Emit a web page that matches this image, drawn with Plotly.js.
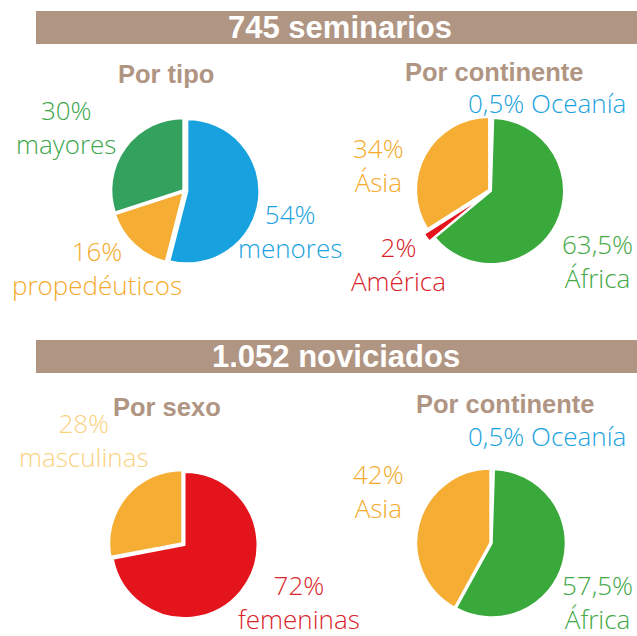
<!DOCTYPE html>
<html>
<head>
<meta charset="utf-8">
<script src="https://cdn.plot.ly/plotly-3.0.1.min.js"></script>
<style>html,body{margin:0;padding:0;background:#fff;}#chart{width:637px;height:636px;}</style>
</head>
<body>
<div id="chart"></div>
<script>
// ---- Data ----
const headerTitles = ['745 seminarios', '1.052 noviciados'];
const subTitles = ['Por tipo', 'Por continente', 'Por sexo', 'Por continente'];

const semTipoLabels = ['menores', 'propedéuticos', 'mayores'];
const semTipoValues = [54, 16, 30];

const semContLabels = ['Oceanía', 'África', 'América', 'Ásia'];
const semContValues = [0.5, 63.5, 2, 34];

const novSexoLabels = ['femeninas', 'masculinas'];
const novSexoValues = [72, 28];

const novContLabels = ['Oceanía', 'África', 'Asia'];
const novContValues = [0.5, 57.5, 42];

// ---- Styles ----
const W = 637, H = 636;
const fx = x => x / W;
const fy = y => 1 - y / H;
const C = {
  blue: '#17a1de', orange: '#f6ad33', tealgreen: '#34a25f', green: '#3aa93b',
  red: '#e3141c', pale: '#fad27f', brown: '#b09583', redText: '#d9232b',
  greenText: '#3da64d', orangeText: '#f5aa2c', blueText: '#1aa3e0', africaText: '#43a845'
};
const labelFont = 'Open Sans, Lato, sans-serif';
const fmt = v => String(v).replace('.', ',') + '%';

function domainFor(cx, cy, r, pulls) {
  const maxPull = Math.max(0, ...pulls);
  const half = r * (1 + maxPull);
  return { x: [fx(cx - half), fx(cx + half)], y: [fy(cy + half), fy(cy - half)] };
}

function pieTrace(values, labels, colors, pulls, cx, cy, r) {
  return {
    type: 'pie', values: values, labels: labels, sort: false, direction: 'clockwise', rotation: 0,
    marker: { colors: colors, line: { color: '#ffffff', width: 2 } },
    pull: pulls, textinfo: 'none', hoverinfo: 'label+percent', showlegend: false,
    domain: domainFor(cx, cy, r, pulls)
  };
}

const p1 = [0.04, 0.02, 0.02];
const p2 = [0, 0.0, 0.09, 0.03];
const p3 = [0, 0.04];
const p4 = [0, 0.01, 0.01];

const data = [
  pieTrace(semTipoValues, semTipoLabels, [C.blue, C.orange, C.tealgreen], p1, 184.5, 191, 72),
  pieTrace(semContValues, semContLabels, ['#5bb8e6', C.green, C.red, C.orange], p2, 491, 191, 73),
  pieTrace(novSexoValues, novSexoLabels, [C.red, C.orange], p3, 184.5, 545, 73),
  pieTrace(novContValues, novContLabels, ['#7fc3e8', C.green, C.orange], p4, 491, 543, 74)
];

const annotations = [];
function ann(text, x, y, color, size, bold, family) {
  annotations.push({
    text: text, xref: 'paper', yref: 'paper', x: fx(x), y: fy(y), xanchor: 'center', yanchor: 'middle',
    showarrow: false, align: 'center',
    font: { family: family || labelFont, size: size, color: color, weight: bold ? 700 : 300 }
  });
}
const boldFont = 'Liberation Sans, Arial, sans-serif';

// headers
ann(headerTitles[0], 340, 27.5, '#ffffff', 31, true, boldFont);
ann(headerTitles[1], 336, 356.5, '#ffffff', 31, true, boldFont);
// subtitles
ann(subTitles[0], 166, 74, C.brown, 25.5, true, boldFont);
ann(subTitles[1], 494, 72, C.brown, 25.5, true, boldFont);
ann(subTitles[2], 167, 407, C.brown, 25.5, true, boldFont);
ann(subTitles[3], 505, 404, C.brown, 25.5, true, boldFont);

const LS = 26;
const two = (v, l) => fmt(v) + '<br>' + l;
// Seminarios por tipo
ann(two(semTipoValues[2], semTipoLabels[2]), 66, 127, C.greenText, LS);
ann(two(semTipoValues[0], semTipoLabels[0]), 290, 231, C.blueText, LS);
ann(two(semTipoValues[1], semTipoLabels[1]), 97, 268, C.orangeText, LS);
// Seminarios por continente
ann(fmt(semContValues[0]) + ' ' + semContLabels[0], 547, 103, C.blueText, LS);
ann(two(semContValues[3], semContLabels[3]), 378, 165, C.orangeText, LS);
ann(two(semContValues[2], semContLabels[2]), 398, 264, C.redText, LS);
ann(two(semContValues[1], semContLabels[1]), 597, 261, C.africaText, LS);
// Noviciados por sexo
ann(two(novSexoValues[1], novSexoLabels[1]), 84, 440, C.pale, LS);
ann(two(novSexoValues[0], novSexoLabels[0]), 299, 602, C.redText, LS);
// Noviciados por continente
ann(fmt(novContValues[0]) + ' ' + novContLabels[0], 547, 436, C.blueText, LS);
ann(two(novContValues[2], novContLabels[2]), 378, 491, C.orangeText, LS);
ann(two(novContValues[1], novContLabels[1]), 597, 602, C.africaText, LS);

const shapes = [
  { type: 'rect', xref: 'paper', yref: 'paper', x0: fx(36), x1: 1, y0: fy(44), y1: fy(11), fillcolor: C.brown, line: { width: 0 }, layer: 'below' },
  { type: 'rect', xref: 'paper', yref: 'paper', x0: fx(36), x1: 1, y0: fy(373), y1: fy(340), fillcolor: C.brown, line: { width: 0 }, layer: 'below' }
];

const layout = {
  width: W, height: H, margin: { l: 0, r: 0, t: 0, b: 0 },
  paper_bgcolor: '#ffffff', plot_bgcolor: '#ffffff',
  showlegend: false, annotations: annotations, shapes: shapes
};

Plotly.newPlot('chart', data, layout, { displayModeBar: false, staticPlot: true });
</script>
</body>
</html>
